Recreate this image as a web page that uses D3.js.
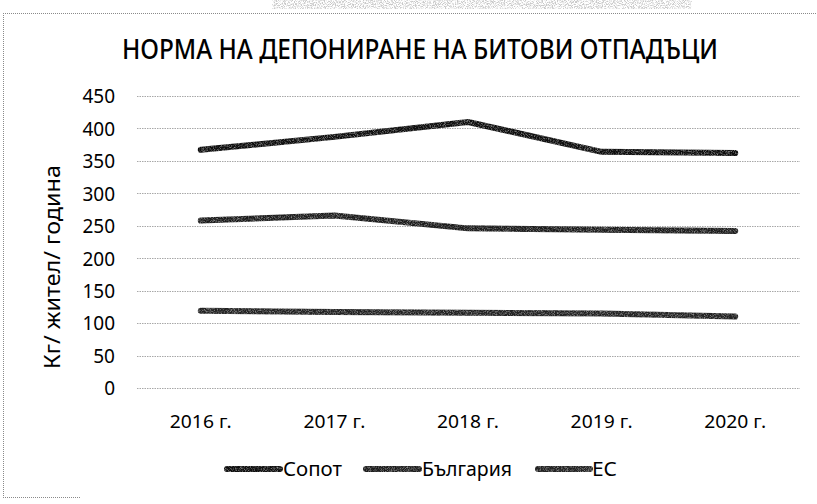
<!DOCTYPE html>
<html>
<head>
<meta charset="utf-8">
<script src="https://cdn.jsdelivr.net/npm/d3@7"></script>
<style>
  html, body { margin: 0; padding: 0; background: #fff; }
  svg { display: block; }
  text { font-family: "Noto Sans", "Open Sans", sans-serif; fill: #000; font-weight: 400; }
</style>
</head>
<body>
<svg id="chart" width="817" height="504"></svg>
<script>
// Landfill rate of municipal waste, kg per inhabitant per year
const years = ["2016 г.", "2017 г.", "2018 г.", "2019 г.", "2020 г."];
const sopot = [367, 387, 410, 364, 362];
const bulgaria = [258, 266, 246, 244, 242];
const eu = [119, 117, 116, 115, 110];
const seriesNames = ["Сопот", "България", "ЕС"];
const yTicks = [0, 50, 100, 150, 200, 250, 300, 350, 400, 450];
const titleText = "НОРМА НА ДЕПОНИРАНЕ НА БИТОВИ ОТПАДЪЦИ";
const yTitle = "Кг/ жител/ година";

const series = [
  { name: seriesNames[0], values: sopot, color: "#111" },
  { name: seriesNames[1], values: bulgaria, color: "#1c1c1c" },
  { name: seriesNames[2], values: eu, color: "#232323" }
];

const svg = d3.select("#chart");
const W = 817, H = 504;
const plot = { left: 134, right: 802, top: 96, bottom: 388 };

// grain filter for the printed look of the strokes
const defs = svg.append("defs");
const f = defs.append("filter").attr("id", "grain")
  .attr("filterUnits", "userSpaceOnUse").attr("x", 0).attr("y", 0).attr("width", W).attr("height", H);
f.append("feTurbulence").attr("type", "fractalNoise").attr("baseFrequency", 1.3).attr("numOctaves", 1).attr("seed", 3).attr("result", "noise");
f.append("feColorMatrix").attr("in", "noise").attr("type", "matrix")
  .attr("values", "0 0 0 0 0  0 0 0 0 0  0 0 0 0 0  0 0 0 -1.3 1.55").attr("result", "mask");
f.append("feComposite").attr("in", "SourceGraphic").attr("in2", "mask").attr("operator", "in");

// speckled grey band along the top edge
const topNoise = defs.append("filter").attr("id", "smudge")
  .attr("filterUnits", "userSpaceOnUse").attr("x", 0).attr("y", 0).attr("width", W).attr("height", 20);
topNoise.append("feTurbulence").attr("type", "fractalNoise").attr("baseFrequency", "1.1 0.9").attr("numOctaves", 2).attr("seed", 11).attr("result", "n");
topNoise.append("feColorMatrix").attr("in", "n").attr("type", "matrix")
  .attr("values", "0 0 0 0 0.45  0 0 0 0 0.45  0 0 0 0 0.45  -4 0 0 0 2.3").attr("result", "m");
topNoise.append("feComposite").attr("in", "m").attr("in2", "SourceGraphic").attr("operator", "in");

svg.append("rect").attr("x", 272).attr("y", 0).attr("width", 420).attr("height", 9)
  .attr("fill", "#000").attr("filter", "url(#smudge)").attr("opacity", 0.7);

// chart area border (dotted)
const border = svg.append("g").attr("stroke", "#8a8a8a").attr("stroke-width", 1).attr("stroke-dasharray", "1,1");
border.append("line").attr("x1", 3.5).attr("x2", 3.5).attr("y1", 13).attr("y2", 497);
border.append("line").attr("x1", 3).attr("x2", 817).attr("y1", 13.5).attr("y2", 13.5);
border.append("line").attr("x1", 3).attr("x2", 80).attr("y1", 497.5).attr("y2", 497.5);

const x = d3.scaleBand().domain(years).range([plot.left, plot.right]);
const y = d3.scaleLinear().domain([0, 450]).range([plot.bottom, plot.top]);

// horizontal gridlines
svg.append("g")
  .selectAll("line")
  .data(yTicks)
  .join("line")
  .attr("x1", 137).attr("x2", 800)
  .attr("y1", d => Math.round(y(d)) + 0.5).attr("y2", d => Math.round(y(d)) + 0.5)
  .attr("stroke", "#a8a8a8").attr("stroke-width", 1).attr("stroke-dasharray", "1.5,1");

// y axis labels
const yAxis = d3.axisLeft(y).tickValues(yTicks).tickSize(0).tickPadding(0);
const yg = svg.append("g").attr("transform", "translate(115,0)").call(yAxis);
yg.select(".domain").remove();
yg.selectAll("text").style("font-size", "19px").attr("fill", "#000").attr("dy", "0.36em");

// x axis labels
const xAxis = d3.axisBottom(x).tickSize(0).tickPadding(0);
const xg = svg.append("g").attr("transform", "translate(0,428)").call(xAxis);
xg.select(".domain").remove();
xg.selectAll("text").style("font-size", "18px").attr("fill", "#000").attr("dy", "0")
  .attr("textLength", 62).attr("lengthAdjust", "spacingAndGlyphs");
svg.selectAll(".tick text").style("font-family", "'Noto Sans', sans-serif").style("font-weight", 400);

// title
svg.append("text")
  .attr("x", 420).attr("y", 59)
  .attr("text-anchor", "middle")
  .attr("textLength", 596).attr("lengthAdjust", "spacingAndGlyphs")
  .style("font-size", "27px")
  .style("font-weight", 500)
  .text(titleText);

// y axis title
svg.append("text")
  .attr("transform", "translate(60,267) rotate(-90)")
  .attr("text-anchor", "middle")
  .attr("textLength", 204).attr("lengthAdjust", "spacingAndGlyphs")
  .style("font-size", "21px")
  .text(yTitle);

// series lines
const line = d3.line()
  .x((d, i) => x(years[i]) + x.bandwidth() / 2)
  .y(d => y(d));

svg.append("g")
  .selectAll("path")
  .data(series)
  .join("path")
  .attr("d", d => line(d.values))
  .attr("fill", "none")
  .attr("stroke", d => d.color)
  .attr("stroke-width", 6)
  .attr("stroke-linecap", "round")
  .attr("stroke-linejoin", "round")
  .attr("filter", "url(#grain)");

// legend
const legendItems = [
  { sx: 227, ex: 280, tx: 283, tw: 59 },
  { sx: 366, ex: 419, tx: 422, tw: 90 },
  { sx: 538, ex: 590, tx: 592, tw: 25 }
];
const lg = svg.append("g");
series.forEach((s, i) => {
  const it = legendItems[i];
  lg.append("line")
    .attr("x1", it.sx).attr("x2", it.ex).attr("y1", 469).attr("y2", 469)
    .attr("stroke", s.color).attr("stroke-width", 6).attr("stroke-linecap", "round")
    .attr("filter", "url(#grain)");
  lg.append("text")
    .attr("x", it.tx).attr("y", 476)
    .attr("textLength", it.tw).attr("lengthAdjust", "spacingAndGlyphs")
    .style("font-size", "19px")
    .text(s.name);
});
</script>
</body>
</html>
